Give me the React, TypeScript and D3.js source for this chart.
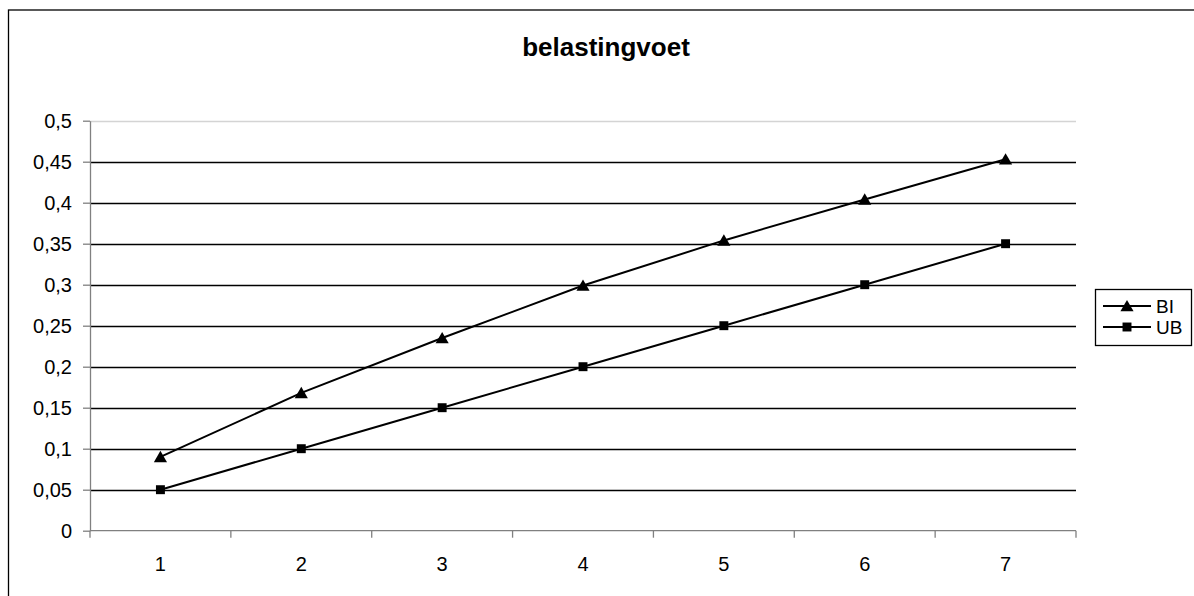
import React, { useRef, useEffect } from 'react';
import * as d3 from 'd3';

const categories = ['1', '2', '3', '4', '5', '6', '7'];
const seriesBI = [0.09, 0.168, 0.235, 0.299, 0.354, 0.404, 0.453];
const seriesUB = [0.05, 0.1, 0.15, 0.2, 0.25, 0.3, 0.35];
const yTicks = [0, 0.05, 0.1, 0.15, 0.2, 0.25, 0.3, 0.35, 0.4, 0.45, 0.5];
const title = 'belastingvoet';

const W = 1194;
const H = 596;
const font = '"Liberation Sans", Arial, sans-serif';

const App = () => {
  const svgRef = useRef<SVGSVGElement>(null);

  useEffect(() => {
    const svg = d3.select(svgRef.current);
    svg.selectAll('*').remove();

    // page coordinates (svg is fixed at the top-left corner)
    const plot = { left: 90, right: 1076, top: 120.7, bottom: 530.7 };

    svg.append('rect')
      .attr('x', 8.5).attr('y', 10)
      .attr('width', W + 40).attr('height', H + 40)
      .attr('fill', '#fff').attr('stroke', '#000').attr('stroke-width', 1.3);

    svg.append('text')
      .attr('x', 606).attr('y', 56)
      .attr('text-anchor', 'middle')
      .attr('font-family', font).attr('font-weight', 'bold').attr('font-size', 26)
      .text(title);

    const x = d3.scaleBand().domain(categories).range([plot.left, plot.right]).padding(0);
    const y = d3.scaleLinear().domain([0, 0.5]).range([plot.bottom, plot.top]);

    // gridlines
    svg.append('g')
      .selectAll('line')
      .data(yTicks.filter(t => t > 0))
      .join('line')
      .attr('x1', plot.left).attr('x2', plot.right)
      .attr('y1', d => Math.round(y(d)) + 0.5).attr('y2', d => Math.round(y(d)) + 0.5)
      .attr('stroke', d => (d === 0.5 ? '#d4d4d4' : '#000'))
      .attr('stroke-width', 1.3);

    const fmt = (d: number) => String(d).replace('.', ',');

    // y axis
    const yAxis = svg.append('g')
      .attr('transform', `translate(${plot.left},0)`)
      .call(d3.axisLeft(y).tickValues(yTicks).tickSize(7).tickPadding(11).tickSizeOuter(0).tickFormat(d => fmt(+d)));
    yAxis.select('.domain').attr('stroke', '#808080').attr('stroke-width', 1.3);
    yAxis.selectAll('.tick line').attr('stroke', '#808080').attr('stroke-width', 1.3);
    yAxis.selectAll('.tick text').attr('font-family', font).attr('font-size', 20).attr('fill', '#000');

    // x axis, ticks between categories
    const xg = svg.append('g').attr('transform', `translate(0,${plot.bottom})`);
    xg.append('line')
      .attr('x1', plot.left).attr('x2', plot.right)
      .attr('stroke', '#808080').attr('stroke-width', 1.3);
    const bounds = categories.map(c => x(c) as number).concat([plot.right]);
    xg.selectAll('line.tk')
      .data(bounds)
      .join('line')
      .attr('class', 'tk')
      .attr('x1', d => d).attr('x2', d => d)
      .attr('y1', 0).attr('y2', 7)
      .attr('stroke', '#808080').attr('stroke-width', 1.3);
    xg.selectAll('text')
      .data(categories)
      .join('text')
      .attr('x', d => (x(d) as number) + x.bandwidth() / 2)
      .attr('y', 40)
      .attr('text-anchor', 'middle')
      .attr('font-family', font).attr('font-size', 20)
      .text(d => d);

    const cx = (i: number) => (x(categories[i]) as number) + x.bandwidth() / 2;
    const line = d3.line<number>().x((_, i) => cx(i)).y(d => y(d));

    const tri = d3.symbol().type(d3.symbolTriangle).size(75);
    const sq = d3.symbol().type(d3.symbolSquare).size(80);

    const series = [
      { name: 'BI', values: seriesBI, sym: tri, dy: 1.5 },
      { name: 'UB', values: seriesUB, sym: sq, dy: 0 },
    ];

    series.forEach(s => {
      svg.append('path')
        .datum(s.values)
        .attr('fill', 'none').attr('stroke', '#000').attr('stroke-width', 2)
        .attr('d', line);
      svg.append('g')
        .selectAll('path')
        .data(s.values)
        .join('path')
        .attr('transform', (d, i) => `translate(${cx(i)},${y(d) + s.dy})`)
        .attr('d', s.sym())
        .attr('fill', '#000');
    });

    // legend
    const lg = svg.append('g').attr('transform', 'translate(1095,289)');
    lg.append('rect')
      .attr('x', 0.5).attr('y', 0.5).attr('width', 96).attr('height', 56)
      .attr('fill', '#fff').attr('stroke', '#000').attr('stroke-width', 1.3);
    series.forEach((s, i) => {
      const ry = 17 + i * 21;
      lg.append('line')
        .attr('x1', 8).attr('x2', 56).attr('y1', ry).attr('y2', ry)
        .attr('stroke', '#000').attr('stroke-width', 2);
      lg.append('path')
        .attr('transform', `translate(32,${ry + s.dy})`)
        .attr('d', s.sym())
        .attr('fill', '#000');
      lg.append('text')
        .attr('x', 61).attr('y', ry + 7)
        .attr('font-family', font).attr('font-size', 19)
        .text(s.name);
    });
  }, []);

  return (
    <svg
      ref={svgRef}
      width={W}
      height={H}
      style={{ position: 'fixed', left: 0, top: 0, display: 'block', overflow: 'hidden' }}
    />
  );
};

export default App;
